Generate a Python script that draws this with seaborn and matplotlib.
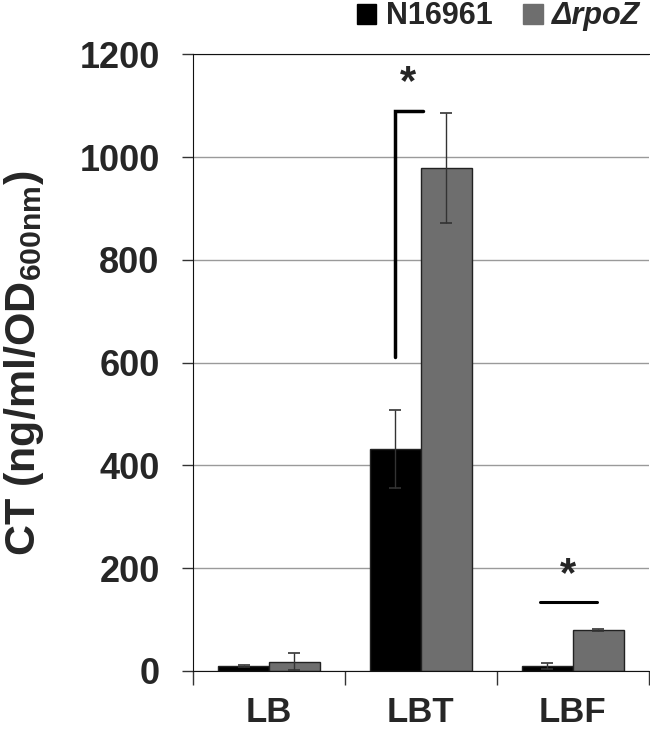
import numpy as np
import pandas as pd
import seaborn as sns
import matplotlib.pyplot as plt
from matplotlib.patches import Patch

media = ['LB', 'LBT', 'LBF']
strains = ['N16961', '\u0394rpoZ']
wt_ct = [10, 432, 10]
wt_err = [2, 76, 6]
rpoz_ct = [18, 978, 80]
rpoz_err = [17, 107, 2]
colors = ['#000000', '#6e6e6e']

df = pd.DataFrame({
    'medium': media * 2,
    'strain': [strains[0]] * 3 + [strains[1]] * 3,
    'ct': wt_ct + rpoz_ct,
})

sns.set_style('white')
plt.rcParams['font.family'] = ['Liberation Sans', 'DejaVu Sans']
plt.rcParams['font.weight'] = 'bold'
plt.rcParams['mathtext.fontset'] = 'custom'
plt.rcParams['mathtext.bf'] = 'Liberation Sans:bold'
plt.rcParams['mathtext.rm'] = 'Liberation Sans:bold'

fig = plt.figure(figsize=(6.5, 7.29), dpi=100)
ax = fig.add_axes([0.297, 0.0796, 0.701, 0.846])

sns.barplot(data=df, x='medium', y='ct', hue='strain', order=media,
            hue_order=strains, palette=colors, width=0.67, errorbar=None,
            edgecolor='#222222', linewidth=1, ax=ax, zorder=2)

# error bars on top of each bar
for cont, err in zip(ax.containers, [wt_err, rpoz_err]):
    xs = [p.get_x() + p.get_width() / 2 for p in cont.patches]
    ys = [p.get_height() for p in cont.patches]
    ax.errorbar(xs, ys, yerr=err, fmt='none', ecolor='#333333',
                elinewidth=1, capsize=4, capthick=1.2, zorder=3)

ax.set_ylim(0, 1200)
ax.set_xlim(-0.5, 2.5)
ax.set_yticks(range(0, 1201, 200))
ax.yaxis.grid(True, color='#9a9a9a', linewidth=1, zorder=0)
ax.set_axisbelow(True)
ax.spines['right'].set_visible(False)
for s in ['left', 'bottom', 'top']:
    ax.spines[s].set_color('#111111')
ax.tick_params(axis='y', length=8, width=1, color='#333333',
               labelsize=26, pad=16, left=True)
ax.tick_params(axis='x', which='major', length=0, labelsize=25, pad=18)
ax.set_xticks([-0.5, 0.5, 1.5, 2.5], minor=True)
ax.tick_params(axis='x', which='minor', length=10, width=1,
               color='#333333', bottom=True)
for t in ax.get_xticklabels() + ax.get_yticklabels():
    t.set_fontweight('bold')

ax.set_xlabel('')
ax.set_ylabel(r'CT (ng/ml/OD$_{\mathbf{600nm}}$)', fontsize=31,
              fontweight='bold', labelpad=24)

# significance marks
ax.plot([0.8325, 0.8325, 1.013], [611, 1089, 1089],
        color='black', linewidth=2.5, solid_joinstyle='miter')
ax.text(0.914, 1105, '*', ha='center', va='bottom', fontsize=30,
        fontweight='bold')
ax.plot([1.783, 2.158], [134, 134], color='black', linewidth=2.2)
ax.text(1.967, 148, '*', ha='center', va='bottom', fontsize=30,
        fontweight='bold')

ax.get_legend().remove()
handles = [Patch(color=c) for c in colors]
leg = fig.legend(handles, strains, loc='upper right',
                 bbox_to_anchor=(0.985, 0.998), ncol=2, frameon=False,
                 fontsize=22, handlelength=0.65, handleheight=0.65,
                 handletextpad=0.3, columnspacing=1.0, borderpad=0,
                 borderaxespad=0)
for t in leg.get_texts():
    t.set_fontweight('bold')
leg.get_texts()[1].set_fontstyle('italic')

fig.savefig('out.png', dpi=100)
